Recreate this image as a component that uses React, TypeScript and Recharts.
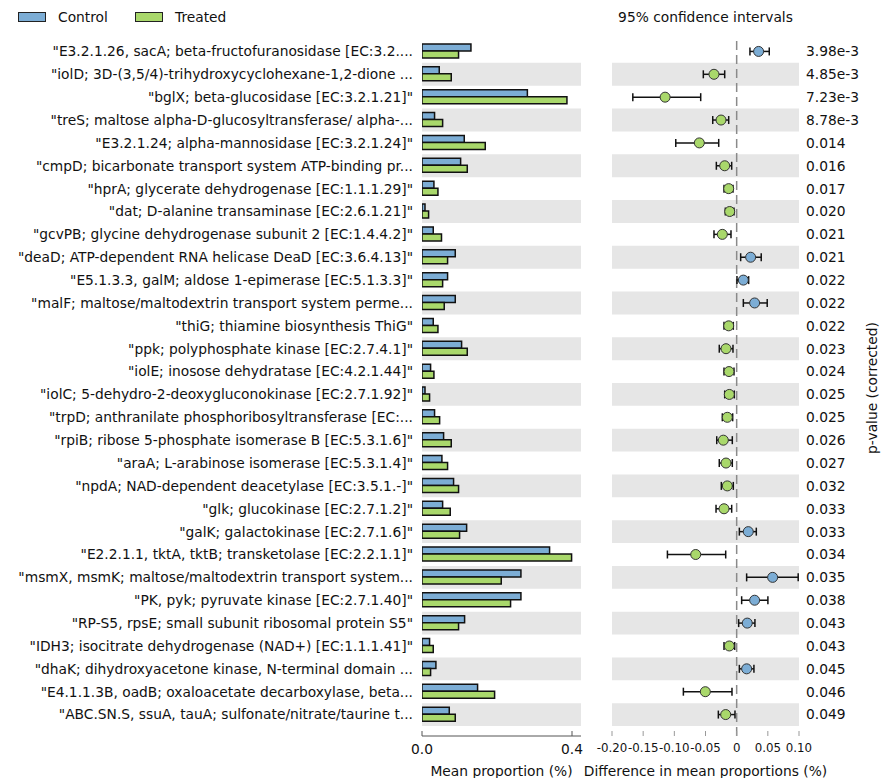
import React from 'react';
import {
  BarChart,
  Bar,
  XAxis,
  YAxis,
  ComposedChart,
  Scatter,
  ErrorBar,
  ReferenceArea,
  ReferenceLine,
  Legend,
} from 'recharts';

const categories = [
  '"E3.2.1.26, sacA; beta-fructofuranosidase [EC:3.2....',
  '"iolD; 3D-(3,5/4)-trihydroxycyclohexane-1,2-dione ...',
  '"bglX; beta-glucosidase [EC:3.2.1.21]"',
  '"treS; maltose alpha-D-glucosyltransferase/ alpha-...',
  '"E3.2.1.24; alpha-mannosidase [EC:3.2.1.24]"',
  '"cmpD; bicarbonate transport system ATP-binding pr...',
  '"hprA; glycerate dehydrogenase [EC:1.1.1.29]"',
  '"dat; D-alanine transaminase [EC:2.6.1.21]"',
  '"gcvPB; glycine dehydrogenase subunit 2 [EC:1.4.4.2]"',
  '"deaD; ATP-dependent RNA helicase DeaD [EC:3.6.4.13]"',
  '"E5.1.3.3, galM; aldose 1-epimerase [EC:5.1.3.3]"',
  '"malF; maltose/maltodextrin transport system perme...',
  '"thiG; thiamine biosynthesis ThiG"',
  '"ppk; polyphosphate kinase [EC:2.7.4.1]"',
  '"iolE; inosose dehydratase [EC:4.2.1.44]"',
  '"iolC; 5-dehydro-2-deoxygluconokinase [EC:2.7.1.92]"',
  '"trpD; anthranilate phosphoribosyltransferase [EC:...',
  '"rpiB; ribose 5-phosphate isomerase B [EC:5.3.1.6]"',
  '"araA; L-arabinose isomerase [EC:5.3.1.4]"',
  '"npdA; NAD-dependent deacetylase [EC:3.5.1.-]"',
  '"glk; glucokinase [EC:2.7.1.2]"',
  '"galK; galactokinase [EC:2.7.1.6]"',
  '"E2.2.1.1, tktA, tktB; transketolase [EC:2.2.1.1]"',
  '"msmX, msmK; maltose/maltodextrin transport system...',
  '"PK, pyk; pyruvate kinase [EC:2.7.1.40]"',
  '"RP-S5, rpsE; small subunit ribosomal protein S5"',
  '"IDH3; isocitrate dehydrogenase (NAD+) [EC:1.1.1.41]"',
  '"dhaK; dihydroxyacetone kinase, N-terminal domain ...',
  '"E4.1.1.3B, oadB; oxaloacetate decarboxylase, beta...',
  '"ABC.SN.S, ssuA, tauA; sulfonate/nitrate/taurine t...',
];

const controlMean = [
  0.1305, 0.046, 0.281, 0.0335, 0.1127, 0.103, 0.0318, 0.008, 0.030, 0.0887,
  0.0682, 0.0887, 0.030, 0.1056, 0.0229, 0.008, 0.0335, 0.0576, 0.0531, 0.0842,
  0.055, 0.119, 0.3402, 0.2638, 0.2638, 0.1136, 0.0202, 0.0371, 0.1482, 0.0727,
];

const treatedMean = [
  0.0975, 0.078, 0.3865, 0.055, 0.1687, 0.1207, 0.0425, 0.0176, 0.052, 0.0682,
  0.055, 0.0593, 0.0425, 0.1207, 0.0318, 0.0202, 0.047, 0.078, 0.0682, 0.0975,
  0.0753, 0.1002, 0.3989, 0.2113, 0.2362, 0.0975, 0.030, 0.0229, 0.1936, 0.0887,
];

const diffMean = [
  0.0352, -0.0364, -0.1148, -0.0251, -0.0599, -0.0192, -0.0128, -0.0112, -0.023, 0.0224,
  0.0107, 0.0288, -0.0128, -0.0171, -0.0123, -0.0118, -0.015, -0.0214, -0.0171, -0.015,
  -0.0203, 0.0186, -0.0657, 0.0577, 0.0288, 0.017, -0.0118, 0.016, -0.0503, -0.0176,
];

const diffLow = [
  0.0213, -0.0535, -0.1666, -0.0384, -0.0977, -0.0326, -0.0203, -0.0182, -0.0364, 0.0064,
  0.0005, 0.0107, -0.0203, -0.0279, -0.0203, -0.0192, -0.023, -0.032, -0.0279, -0.0246,
  -0.0331, 0.0043, -0.1111, 0.016, 0.008, 0.0032, -0.0203, 0.0043, -0.0855, -0.0294,
];

const diffHigh = [
  0.0523, -0.0192, -0.0577, -0.0128, -0.0288, -0.008, -0.0059, -0.0043, -0.0091, 0.0394,
  0.0192, 0.049, -0.0054, -0.0059, -0.0043, -0.0038, -0.0064, -0.007, -0.007, -0.0054,
  -0.008, 0.0315, -0.0176, 0.0987, 0.0501, 0.0293, -0.0032, 0.0277, -0.0075, -0.0027,
];

const pValues = [
  '3.98e-3', '4.85e-3', '7.23e-3', '8.78e-3', '0.014', '0.016', '0.017', '0.020', '0.021', '0.021',
  '0.022', '0.022', '0.022', '0.023', '0.024', '0.025', '0.025', '0.026', '0.027', '0.032',
  '0.033', '0.033', '0.034', '0.035', '0.038', '0.043', '0.043', '0.045', '0.046', '0.049',
];

const barTicks = [0, 0.4];
const ciTicks = [-0.2, -0.15, -0.1, -0.05, 0, 0.05, 0.1];

const BLUE = '#7cadd5';
const GREEN = '#a9d86b';
const STRIPE = '#e6e6e6';
const FONT = '"DejaVu Sans", Verdana, sans-serif';
const FS = 13.8;

const rows = categories.map((name, i) => ({
  name,
  control: controlMean[i],
  treated: treatedMean[i],
  diff: diffMean[i],
  err: [diffMean[i] - diffLow[i], diffHigh[i] - diffMean[i]],
  p: pValues[i],
}));

const pByName: Record<string, string> = {};
rows.forEach((r) => {
  pByName[r.name] = r.p;
});

const stripeNames = categories.filter((_, i) => i % 2 === 1);

const CiDot = (props: any) => {
  const { cx, cy, payload } = props;
  if (cx == null || cy == null) return null;
  return (
    <circle
      cx={cx}
      cy={cy}
      r={5}
      fill={payload.diff > 0 ? BLUE : GREEN}
      stroke="#333"
      strokeWidth={1}
    />
  );
};

const LegendContent = (props: any) => {
  const items = props.payload || [];
  const lefts = [18, 135];
  return (
    <div style={{ position: 'relative', width: 300, height: 36, fontFamily: FONT, fontSize: FS }}>
      {items.map((it: any, i: number) => (
        <React.Fragment key={it.value}>
          <div
            style={{
              position: 'absolute',
              left: lefts[i],
              top: 12,
              width: 26,
              height: 8,
              background: it.color,
              border: '1.5px solid #222',
            }}
          />
          <div
            style={{
              position: 'absolute',
              left: lefts[i] + 40,
              top: 8,
              lineHeight: '18px',
              color: '#111',
              whiteSpace: 'nowrap',
            }}
          >
            {it.value}
          </div>
        </React.Fragment>
      ))}
    </div>
  );
};

const PLabel = (props: any) => {
  const vb = props.viewBox || {};
  const x = vb.x + 73;
  const y = vb.y + vb.height / 2;
  return (
    <text
      x={x}
      y={y}
      transform={`rotate(-90, ${x}, ${y})`}
      textAnchor="middle"
      dominantBaseline="central"
      fontSize={FS}
      fill="#111"
      fontFamily={FONT}
    >
      p-value (corrected)
    </text>
  );
};

const tickStyle = { fill: '#111', fontSize: FS, fontFamily: FONT };
const ciTickStyle = { fill: '#111', fontSize: 11.8, fontFamily: FONT };

export default function App() {
  return (
    <div
      style={{
        position: 'absolute',
        left: 0,
        top: 0,
        width: 883,
        height: 778,
        background: '#fff',
        fontFamily: FONT,
        overflow: 'hidden',
      }}
    >
      <div style={{ position: 'absolute', left: 0, top: 0 }}>
        <BarChart
          width={600}
          height={778}
          data={rows}
          layout="vertical"
          margin={{ top: 40, right: 19, bottom: 2, left: 0 }}
          barGap={0}
          barSize={7}
        >
          {stripeNames.map((n) => (
            <ReferenceArea key={n} y1={n} y2={n} fill={STRIPE} fillOpacity={1} stroke="none" ifOverflow="visible" />
          ))}
          <XAxis
            type="number"
            domain={[0, 0.424]}
            ticks={barTicks}
            allowDataOverflow
            tickFormatter={(v: number) => v.toFixed(1)}
            height={40}
            tickSize={-5}
            tickMargin={13}
            stroke="#555"
            tick={tickStyle}
            interval={0}
            label={{ value: 'Mean proportion (%)', position: 'insideBottom', offset: 0, fill: '#111', fontSize: FS }}
          />
          <YAxis
            type="category"
            dataKey="name"
            width={422}
            interval={0}
            tickLine={false}
            axisLine={false}
            tickSize={0}
            tickMargin={9}
            padding={{ top: 0, bottom: 10 }}
            tick={tickStyle}
          />
          <Legend
            layout="horizontal"
            verticalAlign="middle"
            align="center"
            wrapperStyle={{ left: 0, top: 0, width: 300, height: 36 }}
            content={<LegendContent />}
          />
          <Bar dataKey="control" name="Control" fill={BLUE} stroke="#111" strokeWidth={1.5} isAnimationActive={false} />
          <Bar dataKey="treated" name="Treated" fill={GREEN} stroke="#111" strokeWidth={1.5} isAnimationActive={false} />
        </BarChart>
      </div>

      <div
        style={{
          position: 'absolute',
          left: 612,
          width: 187,
          top: 8,
          textAlign: 'center',
          fontSize: FS,
          lineHeight: '18px',
          color: '#111',
          whiteSpace: 'nowrap',
        }}
      >
        95% confidence intervals
      </div>

      <div style={{ position: 'absolute', left: 581, top: 0 }}>
        <ComposedChart
          width={302}
          height={778}
          data={rows}
          layout="vertical"
          margin={{ top: 40, right: 0, bottom: 2, left: 31 }}
        >
          {stripeNames.map((n) => (
            <ReferenceArea key={n} y1={n} y2={n} fill={STRIPE} fillOpacity={1} stroke="none" ifOverflow="visible" />
          ))}
          <XAxis
            type="number"
            dataKey="diff"
            domain={[-0.2, 0.1]}
            ticks={ciTicks}
            allowDataOverflow
            interval={0}
            tickFormatter={(v: number) => (v === 0 ? '0' : v.toFixed(2))}
            axisLine={false}
            tickSize={-5}
            tickMargin={13}
            stroke="#999"
            tick={ciTickStyle}
            height={40}
            label={{
              value: 'Difference in mean proportions (%)',
              position: 'insideBottom',
              offset: 0,
              fill: '#111',
              fontSize: FS,
            }}
          />
          <YAxis
            type="category"
            scale="band"
            dataKey="name"
            orientation="right"
            width={84}
            interval={0}
            tickLine={false}
            axisLine={false}
            tickSize={0}
            tickMargin={7}
            padding={{ top: 0, bottom: 10 }}
            tick={tickStyle}
            tickFormatter={(v: string) => pByName[v]}
            label={<PLabel />}
          />
          <ReferenceLine x={0} stroke="#8a8a8a" strokeWidth={1.5} strokeDasharray="9 5" ifOverflow="visible" />
          <Scatter dataKey="diff" isAnimationActive={false} shape={<CiDot />}>
            <ErrorBar dataKey="err" direction="x" width={4} stroke="#111" strokeWidth={1.5} />
          </Scatter>
        </ComposedChart>
      </div>
    </div>
  );
}
